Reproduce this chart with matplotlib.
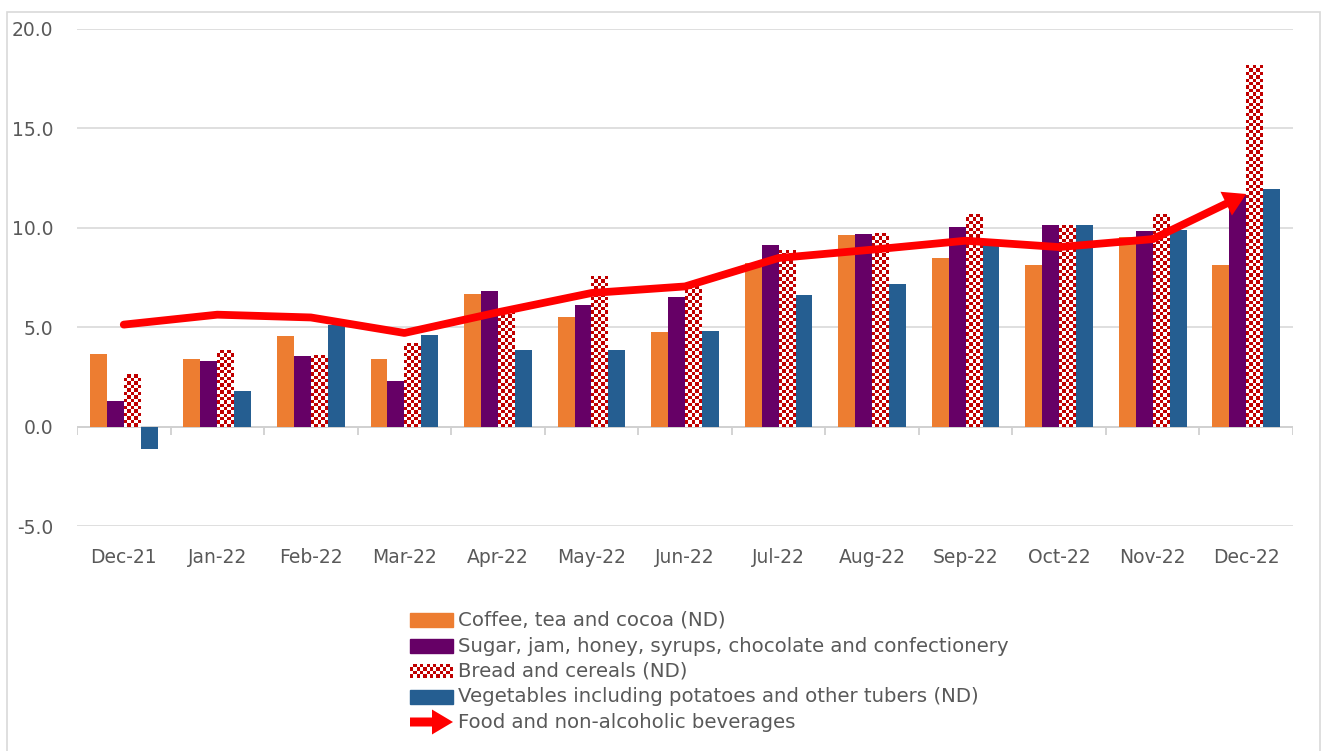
import matplotlib
matplotlib.use('Agg')
import matplotlib.pyplot as plt
import numpy as np
from matplotlib.patches import Rectangle, FancyArrow

plt.rcParams['font.family'] = ['DejaVu Sans']

months = ['Dec-21', 'Jan-22', 'Feb-22', 'Mar-22', 'Apr-22', 'May-22', 'Jun-22',
          'Jul-22', 'Aug-22', 'Sep-22', 'Oct-22', 'Nov-22', 'Dec-22']
coffee = [3.65, 3.40, 4.56, 3.40, 6.65, 5.53, 4.74, 8.22, 9.65, 8.48, 8.12, 9.56, 8.12]
sugar = [1.27, 3.32, 3.53, 2.31, 6.83, 6.10, 6.50, 9.11, 9.70, 10.03, 10.15, 9.85, 11.66]
bread = [2.65, 3.85, 3.60, 4.22, 5.80, 7.55, 7.05, 8.86, 9.73, 10.69, 10.12, 10.69, 18.18]
veg = [-1.12, 1.81, 5.13, 4.61, 3.85, 3.84, 4.79, 6.60, 7.17, 9.15, 10.13, 9.90, 11.94]
food = [5.13, 5.63, 5.49, 4.71, 5.75, 6.72, 7.05, 8.48, 8.90, 9.35, 9.03, 9.43, 11.70]

labels = ['Coffee, tea and cocoa (ND)',
          'Sugar, jam, honey, syrups, chocolate and confectionery',
          'Bread and cereals (ND)',
          'Vegetables including potatoes and other tubers (ND)',
          'Food and non-alcoholic beverages']
yticks = [-5, 0, 5, 10, 15, 20]

C_OR = '#ED7D31'
C_PU = '#660066'
C_CH = '#C00000'
C_BL = '#255E91'
C_LN = '#FF0000'
TXT = '#595959'
GRID = '#D9D9D9'
FS = 13.5
FS_LEG = 14.2

W, H = 1325, 751
fig = plt.figure(figsize=(W / 100, H / 100), dpi=100)
fig.patch.set_facecolor('white')

ax_l, ax_r, ax_t, ax_b = 77, 1293, 29, 526
ax = fig.add_axes([ax_l / W, 1 - ax_b / H, (ax_r - ax_l) / W, (ax_b - ax_t) / H])

x = np.arange(len(months))
bw = 0.181
offs = np.array([-1.5, -0.5, 0.5, 1.5]) * bw

ax.bar(x + offs[0], coffee, bw, color=C_OR, zorder=3)
ax.bar(x + offs[1], sugar, bw, color=C_PU, zorder=3)
bb = ax.bar(x + offs[2], bread, bw, color='white', zorder=3)
ax.bar(x + offs[3], veg, bw, color=C_BL, zorder=3)

# checkerboard fill for bread bars
px_x = (ax_r - ax_l) / 13.0
px_y = (ax_b - ax_t) / 25.0
cell = 3.4
red = np.array([0xC0, 0, 0]) / 255.0
for rect in bb:
    x0 = rect.get_x()
    w = rect.get_width()
    h = rect.get_height()
    nx = max(1, int(round(w * px_x / cell)))
    ny = max(1, int(round(abs(h) * px_y / cell)))
    ii, jj = np.indices((ny, nx))
    img = np.ones((ny, nx, 3))
    img[((ii + jj) % 2) == 1] = red
    ax.imshow(img, extent=(x0, x0 + w, 0, h), origin='lower',
              interpolation='nearest', aspect='auto', zorder=3.5)

# line with arrow head at the end
ax.plot(x[:-1], food[:-1], color=C_LN, lw=5.6, solid_capstyle='round',
        solid_joinstyle='round', zorder=5)
ax.annotate('', xy=(x[-1], food[-1]), xytext=(x[-2], food[-2]),
            arrowprops=dict(arrowstyle='simple,head_length=1.6,head_width=1.9,tail_width=0.56',
                            mutation_scale=10, fc=C_LN, ec='none', lw=0,
                            shrinkA=0, shrinkB=0), zorder=5)

ax.set_xlim(-0.5, 12.5)
ax.set_ylim(-5, 20)
ax.set_aspect('auto')

for s in ax.spines.values():
    s.set_visible(False)
ax.set_yticks(yticks)
ax.set_yticklabels(['%.1f' % v for v in yticks])
ax.yaxis.grid(True, color=GRID, lw=1.2, zorder=0)
ax.set_axisbelow(True)
ax.axhline(0, color='#D0D0D0', lw=1.3, zorder=2)
ax.vlines(np.arange(14) - 0.5, -0.42, 0, color='#D0D0D0', lw=1.3, zorder=2)
ax.set_xticks(x)
ax.set_xticklabels(months)
ax.tick_params(axis='both', length=0, colors=TXT, labelsize=FS)
ax.tick_params(axis='y', pad=17)
ax.tick_params(axis='x', pad=16)

# chart border
fig.patches.append(Rectangle((7 / W, -0.02), (1320 - 7) / W, 1.02 - 12 / H,
                             transform=fig.transFigure, fill=False,
                             ec=GRID, lw=1.2))

# legend
lg = fig.add_axes([0, 0, 1, 1], zorder=10)
lg.axis('off')
lg.patch.set_alpha(0)
rows = [620, 646, 671, 697, 722]
px0, px1, ph = 410, 453, 14
lg.add_patch(Rectangle((px0, rows[0] - ph / 2), px1 - px0, ph, color=C_OR))
lg.add_patch(Rectangle((px0, rows[1] - ph / 2), px1 - px0, ph, color=C_PU))
ny_, nx_ = 4, int(round((px1 - px0) / cell))
ii, jj = np.indices((ny_, nx_))
img = np.ones((ny_, nx_, 3))
img[((ii + jj) % 2) == 1] = red
lg.imshow(img, extent=(px0, px1, rows[2] + ph / 2, rows[2] - ph / 2),
          interpolation='nearest', aspect='auto')
lg.add_patch(Rectangle((px0, rows[3] - ph / 2), px1 - px0, ph, color=C_BL))
lg.add_patch(FancyArrow(410, rows[4], 43, 0, width=9, head_width=25, head_length=21,
                        length_includes_head=True, color=C_LN, lw=0))
lg.set_xlim(0, W)
lg.set_ylim(H, 0)
for r, t in zip(rows, labels):
    lg.text(458, r, t, color=TXT, fontsize=FS_LEG, va='center', ha='left')

fig.savefig('out.png', dpi=100, facecolor='white')
